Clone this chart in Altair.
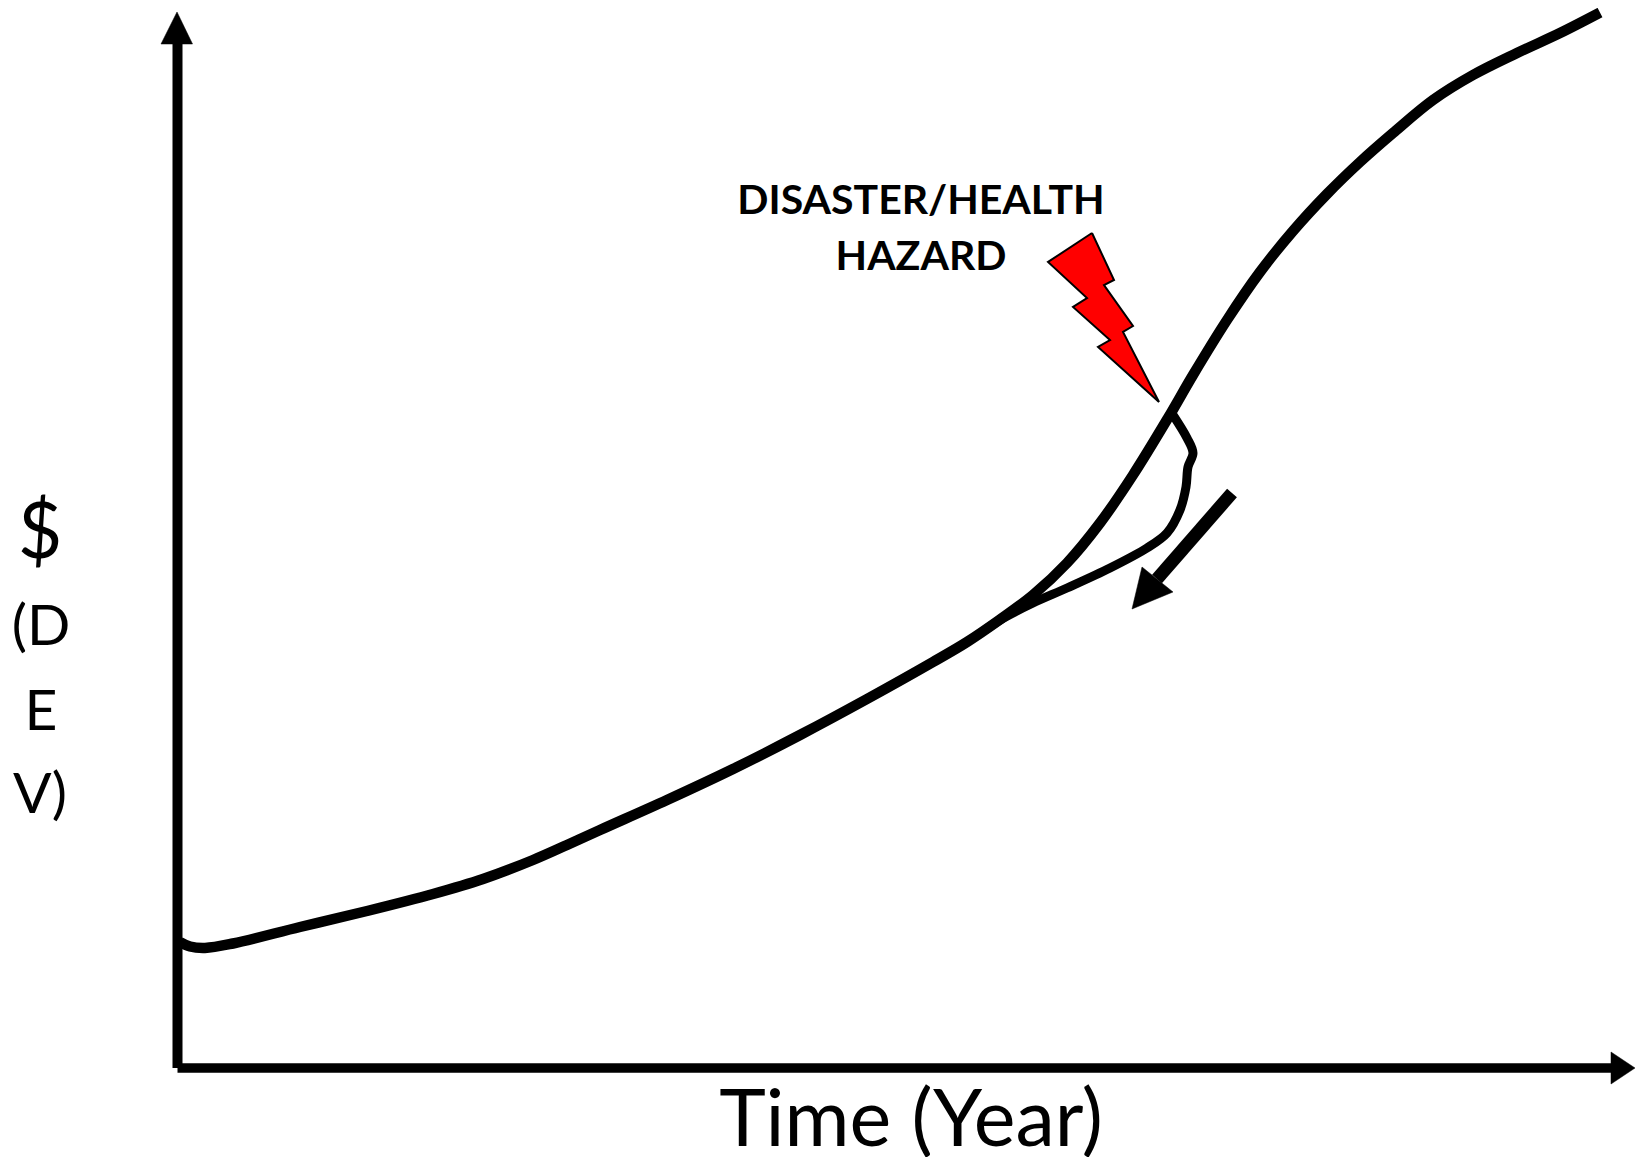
import altair as alt
import pandas as pd

curve_x = [180, 190, 205, 233, 300, 367, 433, 483, 533, 567, 600, 667, 733, 800, 867, 933, 967, 1000, 1033, 1067, 1100, 1133, 1168, 1193, 1227, 1260, 1293, 1327, 1360, 1393, 1433, 1473, 1517, 1560, 1600]
curve_y = [942, 946.5, 948, 943.5, 927, 911, 894, 879, 860, 845, 830, 800, 769, 735, 699, 662, 642, 619.5, 595, 563, 523, 475, 418, 375, 320, 272, 231, 194, 162, 133, 100, 75, 53, 33, 12.5]

branch_x = [1173, 1187, 1193, 1188, 1186, 1180, 1167, 1147, 1110, 1067, 1033, 1000, 985]
branch_y = [415, 438, 453, 467, 487, 510, 533, 548, 568, 588, 603, 620, 630]

yaxis_x = [177.5, 177.5]
yaxis_y = [40, 1068]
xaxis_x = [177.5, 1615]
xaxis_y = [1068, 1068]

yhead_x = [177, 192.5, 161, 177]
yhead_y = [12, 44, 44, 12]
xhead_x = [1635, 1611, 1611, 1635]
xhead_y = [1068, 1052, 1084, 1068]

shaft_x = [1232, 1157]
shaft_y = [493, 579]
dhead_x = [1142, 1173, 1132, 1142]
dhead_y = [567, 592, 609, 567]

bolt_x = [1092, 1114, 1104, 1133, 1123, 1159, 1098, 1110, 1073, 1087, 1048, 1092]
bolt_y = [233, 280, 285, 326, 332, 402, 347, 340, 307, 298, 262, 233]

label_texts = ["DISASTER/HEALTH", "HAZARD"]
label_x = [921, 921]
label_y = [214, 270]

title_text = ["Time (Year)"]
title_x = [911]
title_y = [1146]

dollar_text = ["$"]
dollar_x = [40]
dollar_y = [558]

ylabel_texts = ["(D", "E", "V)"]
ylabel_x = [41, 41, 40]
ylabel_y = [645, 730, 813]

X = alt.Scale(domain=[8, 1635], nice=False, zero=False)
Y = alt.Scale(domain=[1157, 8], nice=False, zero=False)


def frame(xs, ys):
    return pd.DataFrame({"x": xs, "y": ys, "i": range(len(xs))})


def enc(chart):
    return chart.encode(
        x=alt.X("x:Q", scale=X, axis=None),
        y=alt.Y("y:Q", scale=Y, axis=None),
        order="i:Q",
    )


def line(xs, ys, width, interpolate="linear", cap="butt"):
    return enc(alt.Chart(frame(xs, ys)).mark_line(
        color="black", strokeWidth=width, interpolate=interpolate, strokeCap=cap, strokeJoin="round"))


def poly(xs, ys, fill="black", stroke="black", sw=0.5):
    return enc(alt.Chart(frame(xs, ys)).mark_line(
        fill=fill, stroke=stroke, strokeWidth=sw, strokeJoin="miter"))


def text(texts, xs, ys, size, weight="normal"):
    df = pd.DataFrame({"x": xs, "y": ys, "t": texts})
    return alt.Chart(df).mark_text(
        font="Lato", fontSize=size, fontWeight=weight, color="black",
        align="center", baseline="alphabetic", clip=True,
    ).encode(
        x=alt.X("x:Q", scale=X, axis=None),
        y=alt.Y("y:Q", scale=Y, axis=None),
        text="t:N",
    )


chart = alt.layer(
    line(yaxis_x, yaxis_y, 10),
    line(xaxis_x, xaxis_y, 9.5),
    poly(yhead_x, yhead_y),
    poly(xhead_x, xhead_y),
    line(curve_x, curve_y, 10.5, "catmull-rom"),
    line(branch_x, branch_y, 9, "catmull-rom"),
    line(shaft_x, shaft_y, 13),
    poly(dhead_x, dhead_y),
    poly(bolt_x, bolt_y, fill="#ff0000", sw=2),
    text(label_texts, label_x, label_y, 41, "bold"),
    text(title_text, title_x, title_y, 79),
    text(dollar_text, dollar_x, dollar_y, 77),
    text(ylabel_texts, ylabel_x, ylabel_y, 57),
).properties(
    width=1627, height=1149, padding=0, background="white",
    autosize=alt.AutoSizeParams(type="none"),
).configure_view(stroke=None)

chart.save("out.html", embed_options={"renderer": "svg", "actions": False})
